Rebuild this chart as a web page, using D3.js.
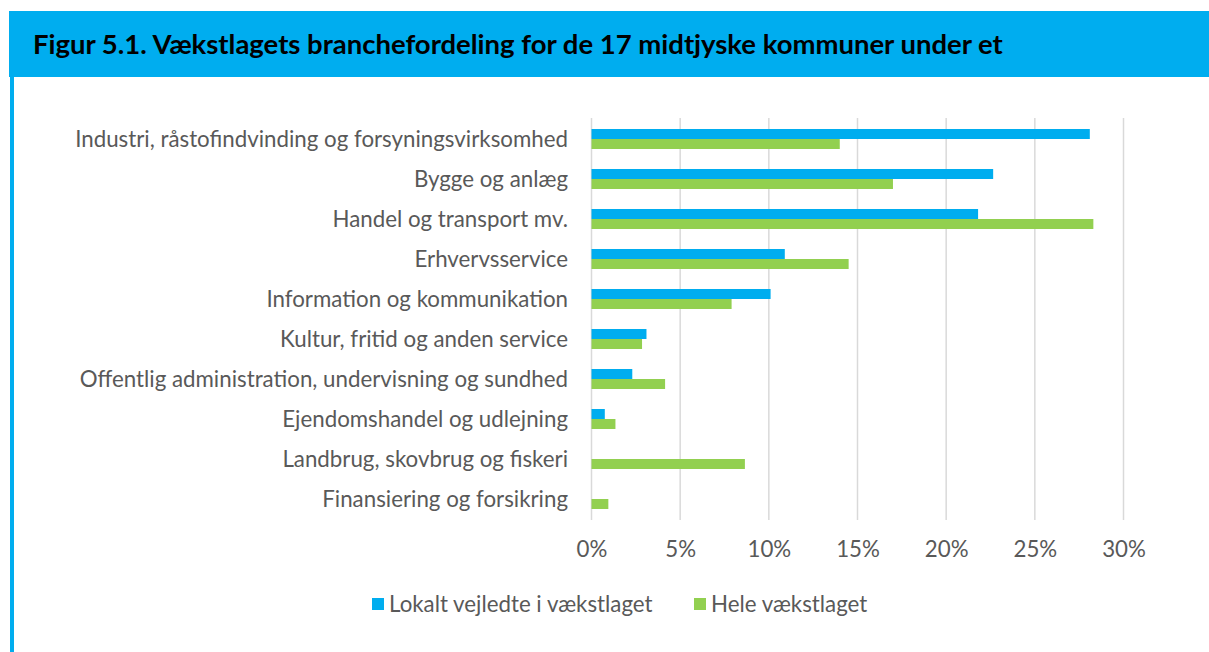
<!DOCTYPE html>
<html>
<head>
<meta charset="utf-8">
<script src="https://cdn.jsdelivr.net/npm/d3@7"></script>
<style>
  html, body { margin: 0; padding: 0; background: #fff; }
  svg { display: block; }
</style>
</head>
<body>
<svg id="chart" width="1209" height="652"></svg>
<script>
const title = "Figur 5.1. Vækstlagets branchefordeling for de 17 midtjyske kommuner under et";
const categories = [
  "Industri, råstofindvinding og forsyningsvirksomhed",
  "Bygge og anlæg",
  "Handel og transport mv.",
  "Erhvervsservice",
  "Information og kommunikation",
  "Kultur, fritid og anden service",
  "Offentlig administration, undervisning og sundhed",
  "Ejendomshandel og udlejning",
  "Landbrug, skovbrug og fiskeri",
  "Finansiering og forsikring"
];
const seriesNames = ["Lokalt vejledte i vækstlaget", "Hele vækstlaget"];
const lokalt = [28.1, 22.65, 21.8, 10.9, 10.1, 3.1, 2.3, 0.75, 0, 0];
const hele   = [14.0, 17.0, 28.3, 14.5, 7.9, 2.85, 4.15, 1.35, 8.65, 0.95];
const tickValues = [0, 5, 10, 15, 20, 25, 30];
const colors = ["#00ADEF", "#92D050"];

const svg = d3.select("#chart");
const fontFam = "Lato, 'Open Sans', sans-serif";
const textColor = "#595959";

// Header band and left border
svg.append("rect").attr("x", 9).attr("y", 11).attr("width", 1200).attr("height", 66).attr("fill", "#00ADEF");
svg.append("rect").attr("x", 10).attr("y", 77).attr("width", 4).attr("height", 575).attr("fill", "#00ADEF");
const t = svg.append("text").attr("x", 33).attr("y", 54)
  .attr("font-family", fontFam).attr("font-weight", "bold").attr("font-size", 22)
  .attr("fill", "#000").text(title);
const tw = t.node().getComputedTextLength();
t.attr("font-size", 22 * 970 / tw);

const x = d3.scaleLinear().domain([0, 30]).range([591.5, 1123.5]);
const y = d3.scaleBand().domain(categories).range([119, 519]).paddingInner(0.5).paddingOuter(0.25);
const ys = d3.scaleBand().domain([0, 1]).range([0, y.bandwidth()]);

// gridlines
svg.append("g").selectAll("line").data(tickValues).join("line")
  .attr("x1", d => x(d)).attr("x2", d => x(d))
  .attr("y1", 118).attr("y2", 520)
  .attr("stroke", "#D9D9D9").attr("stroke-width", 1.5);

// bars
const data = categories.map((c, i) => ({ c, v: [lokalt[i], hele[i]] }));
const g = svg.append("g");
data.forEach(d => {
  d.v.forEach((val, s) => {
    if (val <= 0) return;
    g.append("rect")
      .attr("x", x(0)).attr("y", y(d.c) + ys(s))
      .attr("width", x(val) - x(0)).attr("height", ys.bandwidth())
      .attr("fill", colors[s]);
  });
});

// category labels
const labels = svg.append("g").selectAll("text").data(categories).join("text")
  .attr("x", 568).attr("y", d => y(d) + y.bandwidth() / 2)
  .attr("dy", "0.35em").attr("text-anchor", "end")
  .attr("font-family", fontFam).attr("font-size", 19).attr("fill", textColor)
  .text(d => d);
const lw = labels.nodes()[0].getComputedTextLength();
const fs = 19 * 493 / lw;
labels.attr("font-size", fs);

// x axis tick labels
const axis = d3.axisBottom(x).tickValues(tickValues).tickFormat(d => d + "%").tickSize(0).tickPadding(0);
const ax = svg.append("g").attr("transform", "translate(0,541)").call(axis);
ax.select(".domain").remove();
ax.selectAll("text").attr("font-family", fontFam).attr("font-size", fs).attr("fill", textColor)
  .attr("dy", "0.71em");

// legend
const legendX = [372, 694];
const lg = svg.append("g");
seriesNames.forEach((n, i) => {
  lg.append("rect").attr("x", legendX[i]).attr("y", 598).attr("width", 12).attr("height", 12).attr("fill", colors[i]);
  lg.append("text").attr("x", legendX[i] + 17).attr("y", 604).attr("dy", "0.35em")
    .attr("font-family", fontFam).attr("font-size", fs).attr("fill", textColor).text(n);
});
</script>
</body>
</html>
